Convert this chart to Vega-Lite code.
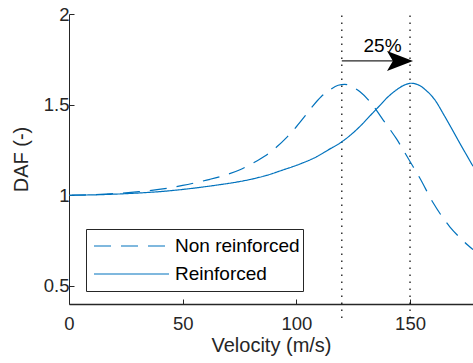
{
  "$schema": "https://vega.github.io/schema/vega-lite/v6.json",
  "width": 404,
  "height": 290,
  "autosize": "none",
  "padding": {"left": 69, "top": 14, "right": 0, "bottom": 59},
  "background": "white",
  "config": {
    "view": {"stroke": null},
    "font": "Liberation Sans",
    "axis": {
      "grid": false,
      "domainColor": "#262626",
      "tickColor": "#262626",
      "labelColor": "#262626",
      "titleColor": "#262626",
      "labelFont": "Liberation Sans",
      "titleFont": "Liberation Sans",
      "labelFontSize": 18.5,
      "titleFontSize": 20,
      "titleFontWeight": "normal",
      "tickSize": -5,
      "labelFlush": false
    }
  },
  "datasets": {
    "curves": [
      {"v": 0, "daf": 1.0, "series": "Reinforced"},
      {"v": 10, "daf": 1.002, "series": "Reinforced"},
      {"v": 20, "daf": 1.006, "series": "Reinforced"},
      {"v": 30, "daf": 1.012, "series": "Reinforced"},
      {"v": 40, "daf": 1.02, "series": "Reinforced"},
      {"v": 50, "daf": 1.032, "series": "Reinforced"},
      {"v": 58, "daf": 1.044, "series": "Reinforced"},
      {"v": 65, "daf": 1.056, "series": "Reinforced"},
      {"v": 72, "daf": 1.069, "series": "Reinforced"},
      {"v": 80, "daf": 1.088, "series": "Reinforced"},
      {"v": 87, "daf": 1.11, "series": "Reinforced"},
      {"v": 94, "daf": 1.139, "series": "Reinforced"},
      {"v": 101.5, "daf": 1.172, "series": "Reinforced"},
      {"v": 109, "daf": 1.213, "series": "Reinforced"},
      {"v": 114, "daf": 1.25, "series": "Reinforced"},
      {"v": 120, "daf": 1.295, "series": "Reinforced"},
      {"v": 124, "daf": 1.334, "series": "Reinforced"},
      {"v": 128, "daf": 1.38, "series": "Reinforced"},
      {"v": 132, "daf": 1.433, "series": "Reinforced"},
      {"v": 136.7, "daf": 1.495, "series": "Reinforced"},
      {"v": 140, "daf": 1.539, "series": "Reinforced"},
      {"v": 144, "daf": 1.581, "series": "Reinforced"},
      {"v": 147, "daf": 1.605, "series": "Reinforced"},
      {"v": 150.5, "daf": 1.618, "series": "Reinforced"},
      {"v": 154, "daf": 1.607, "series": "Reinforced"},
      {"v": 157.2, "daf": 1.577, "series": "Reinforced"},
      {"v": 161, "daf": 1.525, "series": "Reinforced"},
      {"v": 164.5, "daf": 1.452, "series": "Reinforced"},
      {"v": 168, "daf": 1.375, "series": "Reinforced"},
      {"v": 171.9, "daf": 1.287, "series": "Reinforced"},
      {"v": 174.5, "daf": 1.23, "series": "Reinforced"},
      {"v": 177.7, "daf": 1.16, "series": "Reinforced"},
      {"v": 0, "daf": 1.0, "series": "Non reinforced"},
      {"v": 10, "daf": 1.003, "series": "Non reinforced"},
      {"v": 20, "daf": 1.009, "series": "Non reinforced"},
      {"v": 30.8, "daf": 1.02, "series": "Non reinforced"},
      {"v": 44, "daf": 1.04, "series": "Non reinforced"},
      {"v": 50, "daf": 1.054, "series": "Non reinforced"},
      {"v": 57, "daf": 1.073, "series": "Non reinforced"},
      {"v": 62, "daf": 1.088, "series": "Non reinforced"},
      {"v": 67.3, "daf": 1.106, "series": "Non reinforced"},
      {"v": 75.2, "daf": 1.141, "series": "Non reinforced"},
      {"v": 81, "daf": 1.178, "series": "Non reinforced"},
      {"v": 86, "daf": 1.215, "series": "Non reinforced"},
      {"v": 91.3, "daf": 1.266, "series": "Non reinforced"},
      {"v": 96, "daf": 1.322, "series": "Non reinforced"},
      {"v": 100, "daf": 1.378, "series": "Non reinforced"},
      {"v": 104, "daf": 1.44, "series": "Non reinforced"},
      {"v": 107.4, "daf": 1.495, "series": "Non reinforced"},
      {"v": 111, "daf": 1.545, "series": "Non reinforced"},
      {"v": 114.7, "daf": 1.581, "series": "Non reinforced"},
      {"v": 118.4, "daf": 1.607, "series": "Non reinforced"},
      {"v": 121.3, "daf": 1.612, "series": "Non reinforced"},
      {"v": 124.5, "daf": 1.599, "series": "Non reinforced"},
      {"v": 128, "daf": 1.571, "series": "Non reinforced"},
      {"v": 133, "daf": 1.507, "series": "Non reinforced"},
      {"v": 138.2, "daf": 1.415, "series": "Non reinforced"},
      {"v": 144, "daf": 1.312, "series": "Non reinforced"},
      {"v": 150, "daf": 1.186, "series": "Non reinforced"},
      {"v": 154.3, "daf": 1.095, "series": "Non reinforced"},
      {"v": 160.1, "daf": 0.96, "series": "Non reinforced"},
      {"v": 167.5, "daf": 0.826, "series": "Non reinforced"},
      {"v": 172, "daf": 0.765, "series": "Non reinforced"},
      {"v": 177.7, "daf": 0.7, "series": "Non reinforced"}
    ],
    "markers": [
      {"v": 120, "lo": 0.323, "hi": 2},
      {"v": 150, "lo": 0.323, "hi": 2}
    ],
    "arrow": [
      {"start": 120, "end": 143, "head": 145.6, "level": 1.741, "labelX": 137.9, "labelY": 1.79, "label": "25%"}
    ]
  },
  "layer": [
    {
      "data": {"name": "markers"},
      "mark": {"type": "rule", "color": "black", "strokeWidth": 1.2, "strokeDash": [1.5, 5.5]},
      "encoding": {
        "x": {"field": "v", "type": "quantitative", "scale": {"domain": [0, 177.7], "nice": false, "zero": false}},
        "y": {"field": "lo", "type": "quantitative", "scale": {"domain": [0.4, 2], "nice": false, "zero": false}},
        "y2": {"field": "hi"}
      }
    },
    {
      "data": {"name": "curves"},
      "mark": {"type": "line", "color": "#0072BD", "strokeWidth": 1.2, "interpolate": "monotone", "clip": true},
      "encoding": {
        "x": {
          "field": "v", "type": "quantitative",
          "scale": {"domain": [0, 177.7], "nice": false, "zero": false},
          "axis": {"values": [0, 50, 100, 150], "title": "Velocity (m/s)", "format": "d", "domainWidth": 1.5, "labelPadding": 15, "titlePadding": 3}
        },
        "y": {
          "field": "daf", "type": "quantitative",
          "scale": {"domain": [0.4, 2], "nice": false, "zero": false},
          "axis": {"values": [0.5, 1, 1.5, 2], "title": "DAF (-)", "format": "~g", "domainWidth": 1, "labelPadding": 5, "titlePadding": 12}
        },
        "strokeDash": {
          "field": "series", "type": "nominal",
          "scale": {"domain": ["Non reinforced", "Reinforced"], "range": [[17, 10], [1, 0]]},
          "legend": {
            "title": null,
            "orient": "none",
            "legendX": 17,
            "legendY": 215,
            "strokeColor": "#262626",
            "fillColor": "white",
            "padding": 3,
            "symbolOffset": 4,
            "symbolType": "stroke",
            "symbolSize": 5625,
            "symbolStrokeWidth": 1.2,
            "symbolStrokeColor": "#0072BD",
            "clipHeight": 28,
            "rowPadding": 0,
            "labelFont": "Liberation Sans",
            "labelFontSize": 19,
            "labelColor": "black",
            "labelOffset": 5,
            "labelLimit": 300
          }
        },
        "order": {"field": "v", "type": "quantitative"}
      }
    },
    {
      "mark": {"type": "rule", "color": "#262626", "strokeWidth": 2},
      "encoding": {"y": {"datum": 2}}
    },
    {
      "data": {"name": "arrow"},
      "mark": {"type": "rule", "color": "#262626", "strokeWidth": 1.2},
      "encoding": {
        "x": {"field": "start", "type": "quantitative"},
        "x2": {"field": "end"},
        "y": {"field": "level", "type": "quantitative"}
      }
    },
    {
      "data": {"name": "arrow"},
      "mark": {"type": "point", "shape": "M-1,-0.77L1,0L-1,0.77L-0.55,0Z", "filled": true, "color": "black", "opacity": 1, "size": 676},
      "encoding": {
        "x": {"field": "head", "type": "quantitative"},
        "y": {"field": "level", "type": "quantitative"}
      }
    },
    {
      "data": {"name": "arrow"},
      "mark": {"type": "text", "font": "Liberation Sans", "fontSize": 19, "color": "black", "align": "center", "baseline": "alphabetic"},
      "encoding": {
        "x": {"field": "labelX", "type": "quantitative"},
        "y": {"field": "labelY", "type": "quantitative"},
        "text": {"field": "label"}
      }
    }
  ]
}
